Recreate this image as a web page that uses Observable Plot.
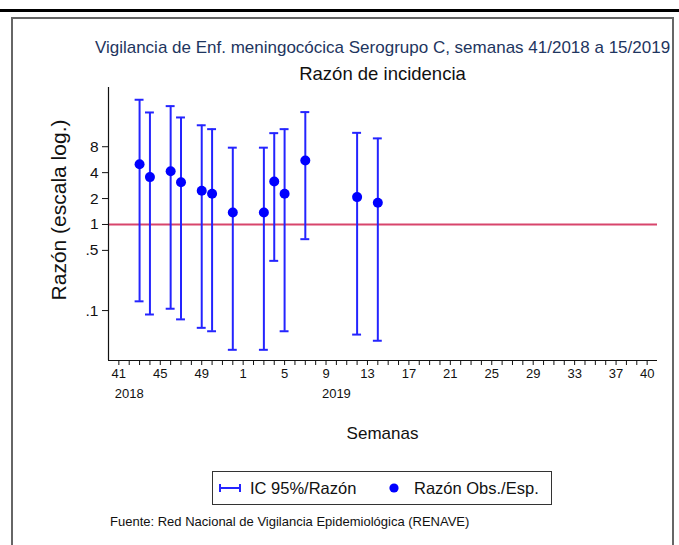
<!DOCTYPE html>
<html>
<head>
<meta charset="utf-8">
<script src="https://cdn.jsdelivr.net/npm/d3@7"></script>
<script src="https://cdn.jsdelivr.net/npm/@observablehq/plot@0.6"></script>
<style>
  html, body { margin: 0; padding: 0; background: #fff; }
  #wrap { position: relative; width: 679px; height: 545px; overflow: hidden; background: #fff;
          font-family: "Liberation Sans", Arial, Helvetica, sans-serif; color: #111; }
  #wrap svg { position: absolute; left: 0; top: 0; }
  .abs { position: absolute; white-space: nowrap; line-height: 1; }
</style>
</head>
<body>
<div id="wrap">
  <div class="abs" style="left:0;top:9px;width:679px;height:3px;background:#000;"></div>
  <div class="abs" style="left:11px;top:17px;width:659px;height:600px;border:2px solid #666;"></div>
  <div id="chart"></div>
  <div class="abs" id="title" style="left:382.5px;top:39px;transform:translateX(-50%);font-size:17px;color:#1e3560;"></div>
  <div class="abs" id="subtitle" style="left:382.5px;top:65px;transform:translateX(-50%);font-size:18.5px;color:#111;"></div>
  <div class="abs" id="ylabel" style="left:58px;top:210px;transform:translate(-50%,-50%) rotate(-90deg);font-size:21px;color:#111;"></div>
  <div class="abs" id="xlabel" style="left:382.5px;top:425px;transform:translateX(-50%);font-size:17px;color:#111;"></div>
  <div class="abs" id="legend" style="left:212px;top:471px;width:338px;height:32px;border:1px solid #333;"></div>
  <div class="abs" id="caption" style="left:110px;top:515px;font-size:13px;color:#111;"></div>
</div>
<script>
// ---- data ----
const titleText = "Vigilancia de Enf. meningocócica Serogrupo C, semanas 41/2018 a 15/2019";
const subtitleText = "Razón de incidencia";
const yTitle = "Razón (escala log.)";
const xTitle = "Semanas";
const captionText = "Fuente: Red Nacional de Vigilancia Epidemiológica (RENAVE)";
const legendLabels = ["IC 95%/Razón", "Razón Obs./Esp."];

const weeks = [43, 44, 46, 47, 49, 50, 52, 3, 4, 5, 7, 12, 14];
const years = [2018, 2018, 2018, 2018, 2018, 2018, 2018, 2019, 2019, 2019, 2019, 2019, 2019];
const ratio = [5.0, 3.55, 4.16, 3.1, 2.46, 2.27, 1.38, 1.38, 3.16, 2.27, 5.54, 2.08, 1.79];
const lower = [0.128, 0.090, 0.105, 0.079, 0.063, 0.0575, 0.035, 0.035, 0.378, 0.0575, 0.675, 0.0526, 0.0446];
const upper = [28.1, 20.0, 23.7, 17.5, 14.2, 12.8, 7.8, 7.8, 11.5, 12.8, 20.2, 11.6, 10.0];

const xTickWeeks = [41, 45, 49, 1, 5, 9, 13, 17, 21, 25, 29, 33, 37, 40];
const xTickYears = [2018, 2018, 2018, 2019, 2019, 2019, 2019, 2019, 2019, 2019, 2019, 2019, 2019, 2019];
const yearLabelWeeks = [42, 10];
const yearLabelYears = [2018, 2019];
const yTicks = [0.1, 0.5, 1, 2, 4, 8];
const yTickLabels = [".1", ".5", "1", "2", "4", "8"];
const refValue = 1;

// ---- helpers ----
const idx = (w, y) => y === 2018 ? w - 41 : w + 11; // consecutive week index from 41/2018
const data = weeks.map((w, i) => ({ x: idx(w, years[i]), ratio: ratio[i], lo: lower[i], hi: upper[i] }));
const majorIdx = xTickWeeks.map((w, i) => idx(w, xTickYears[i]));
const allIdx = d3.range(idx(41, 2018), idx(40, 2019) + 1);
const yearData = yearLabelWeeks.map((w, i) => ({ x: idx(w, yearLabelYears[i]), t: String(yearLabelYears[i]) }));
const yTickData = yTicks.map((v, i) => ({ v, t: yTickLabels[i] }));
const xTickData = majorIdx.map((v, i) => ({ v, t: String(xTickWeeks[i]) }));
const xDomain = [idx(40, 2018), idx(41, 2019)];
const yDomain = [0.0263, 39];
const capHalf = 0.43;
const blue = "#2424ff";
const ink = "#111";

const chart = Plot.plot({
  width: 679,
  height: 420,
  marginLeft: 108,
  marginRight: 22,
  marginTop: 87,
  marginBottom: 60,
  style: { fontFamily: '"Liberation Sans", Arial, sans-serif', color: ink, background: "transparent" },
  x: { type: "linear", domain: xDomain, axis: null },
  y: { type: "log", domain: yDomain, axis: null },
  marks: [
    Plot.ruleY([refValue], { stroke: "#d8456c", strokeWidth: 2 }),
    Plot.ruleX(data, { x: "x", y1: "lo", y2: "hi", stroke: blue, strokeWidth: 2 }),
    Plot.ruleY(data, { y: "lo", x1: d => d.x - capHalf, x2: d => d.x + capHalf, stroke: blue, strokeWidth: 2 }),
    Plot.ruleY(data, { y: "hi", x1: d => d.x - capHalf, x2: d => d.x + capHalf, stroke: blue, strokeWidth: 2 }),
    Plot.dot(data, { x: "x", y: "ratio", r: 5, fill: "#0000ff", stroke: "none" }),
    // axis lines
    Plot.ruleX([xDomain[0]], { stroke: ink, strokeWidth: 1.2 }),
    Plot.ruleY([yDomain[0]], { stroke: ink, strokeWidth: 1.2 }),
    // y ticks + labels
    Plot.ruleY(yTickData, { y: "v", x1: () => xDomain[0], x2: () => xDomain[0], insetLeft: -6, stroke: ink, strokeWidth: 1 }),
    Plot.text(yTickData, { y: "v", text: "t", frameAnchor: "left", dx: -10, textAnchor: "end", fontSize: 15.5, fill: ink }),
    // x ticks (every week) + labels
    Plot.ruleX(allIdx, { x: d => d, y1: () => yDomain[0], y2: () => yDomain[0], insetBottom: -5, stroke: ink, strokeWidth: 1 }),
    Plot.text(xTickData, { x: "v", text: "t", frameAnchor: "bottom", dy: 17, fontSize: 13, fill: ink }),
    Plot.text(yearData, { x: "x", text: "t", frameAnchor: "bottom", dy: 37, fontSize: 13, fill: ink })
  ]
});
document.getElementById("chart").appendChild(chart);

document.getElementById("title").textContent = titleText;
document.getElementById("subtitle").textContent = subtitleText;
document.getElementById("ylabel").textContent = yTitle;
document.getElementById("xlabel").textContent = xTitle;
document.getElementById("caption").textContent = captionText;

// legend
const lg = document.getElementById("legend");
lg.innerHTML = `
<svg width="338" height="32" style="position:absolute;left:0;top:0">
  <line x1="7" x2="27" y1="16" y2="16" stroke="${blue}" stroke-width="2"/>
  <line x1="7" x2="7" y1="12" y2="20" stroke="${blue}" stroke-width="2"/>
  <line x1="27" x2="27" y1="12" y2="20" stroke="${blue}" stroke-width="2"/>
  <circle cx="181" cy="16" r="4.6" fill="#0000ff"/>
</svg>
<span class="abs" style="left:37px;top:8px;font-size:16.5px;">${legendLabels[0]}</span>
<span class="abs" style="left:201px;top:8px;font-size:16.5px;">${legendLabels[1]}</span>`;
</script>
</body>
</html>
